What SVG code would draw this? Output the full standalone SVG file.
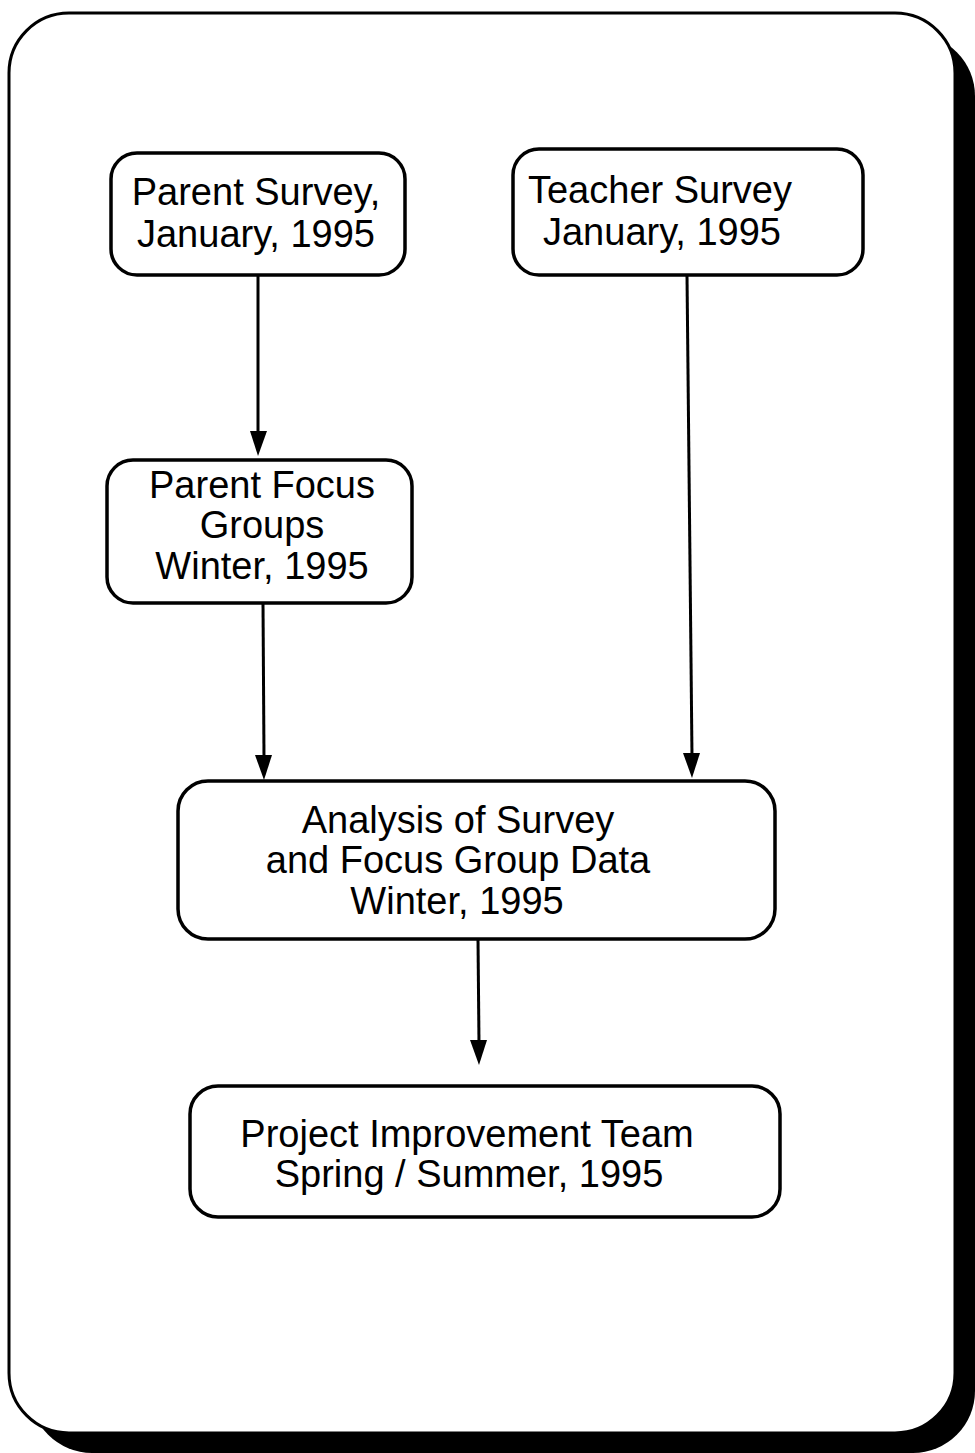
<svg xmlns="http://www.w3.org/2000/svg" width="975" height="1453" viewBox="0 0 975 1453">
<defs>
<style>
.box{fill:#fff;stroke:#000;stroke-width:3.5}
.t{font-family:"Liberation Sans",Arial,sans-serif;font-size:38px;fill:#000;text-anchor:middle}
.c{stroke:#000;stroke-width:3;fill:none}
.ah{fill:#000}
</style>
</defs>
<rect width="975" height="1453" fill="#fff"/>
<g id="frame">
<rect x="30" y="34" width="945" height="1419" rx="62" fill="#000"/>
<rect x="9" y="13" width="946" height="1420" rx="60" fill="#fff" stroke="#000" stroke-width="3"/>
</g>
<g id="connectors">
<line class="c" x1="258" y1="275" x2="258" y2="434"/>
<path class="ah" d="M250,431 L267,431 L258,456 Z"/>
<line class="c" x1="263" y1="603" x2="264" y2="758"/>
<path class="ah" d="M255,755 L272,755 L264,780 Z"/>
<line class="c" x1="687" y1="275" x2="692" y2="756"/>
<path class="ah" d="M683,753 L700,753 L692,778 Z"/>
<line class="c" x1="478" y1="939" x2="479" y2="1043"/>
<path class="ah" d="M470,1040 L487,1040 L479,1065 Z"/>
</g>
<g id="parent-survey">
<rect class="box" x="111" y="153" width="294" height="122" rx="26"/>
<text class="t" x="256" y="205">Parent Survey,</text>
<text class="t" x="256" y="247">January, 1995</text>
</g>
<g id="teacher-survey">
<rect class="box" x="513" y="149" width="350" height="126" rx="26"/>
<text class="t" x="660" y="203">Teacher Survey</text>
<text class="t" x="662" y="245">January, 1995</text>
</g>
<g id="parent-focus">
<rect class="box" x="107" y="460" width="305" height="143" rx="26"/>
<text class="t" x="262" y="498">Parent Focus</text>
<text class="t" x="262" y="538">Groups</text>
<text class="t" x="262" y="579">Winter, 1995</text>
</g>
<g id="analysis">
<rect class="box" x="178" y="781" width="597" height="158" rx="30"/>
<text class="t" x="458" y="833">Analysis of Survey</text>
<text class="t" x="458" y="873">and Focus Group Data</text>
<text class="t" x="457" y="914">Winter, 1995</text>
</g>
<g id="project-team">
<rect class="box" x="190" y="1086" width="590" height="131" rx="28"/>
<text class="t" x="467" y="1147">Project Improvement Team</text>
<text class="t" x="469" y="1187">Spring / Summer, 1995</text>
</g>
</svg>
